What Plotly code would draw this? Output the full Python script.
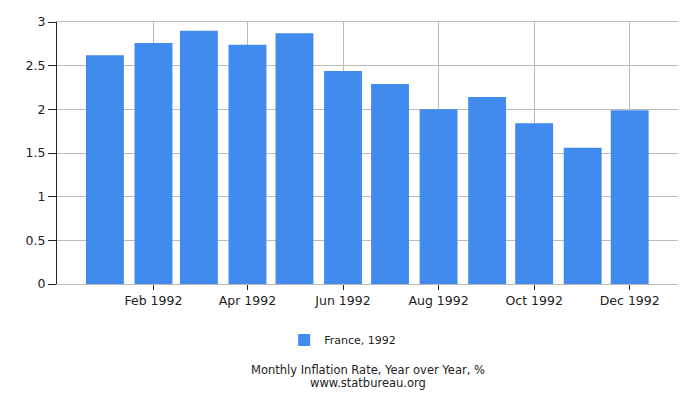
import plotly.graph_objects as go

months = ["1992-01-01", "1992-02-01", "1992-03-01", "1992-04-01", "1992-05-01", "1992-06-01",
          "1992-07-01", "1992-08-01", "1992-09-01", "1992-10-01", "1992-11-01", "1992-12-01"]
inflation = [2.62, 2.76, 2.90, 2.74, 2.87, 2.44, 2.29, 2.00, 2.14, 1.84, 1.56, 1.99]
series_name = "France, 1992"
tick_months = months[1::2]
tick_labels = ["Feb 1992", "Apr 1992", "Jun 1992", "Aug 1992", "Oct 1992", "Dec 1992"]

fig = go.Figure()
fig.add_trace(go.Bar(x=months, y=inflation, name=series_name,
                     marker=dict(color="#428bee", line=dict(width=0)),
                     width=24.2 * 86400000))

# page body has an 8px margin, so margins are shifted to land the plot area where the reference has it
fig.update_layout(
    width=700, height=400,
    margin=dict(l=49, r=30, t=14, b=124, autoexpand=False),
    plot_bgcolor="white", paper_bgcolor="white",
    font=dict(family="DejaVu Sans", size=11, color="#222"),
    showlegend=True,
    legend=dict(orientation="h", x=0.46, xanchor="center", y=-0.214, yanchor="middle",
                font=dict(size=11)),
    annotations=[
        dict(text="Monthly Inflation Rate, Year over Year, %", x=0.5, xref="paper",
             y=-0.330, yref="paper", yanchor="middle", showarrow=False,
             font=dict(size=11.5)),
        dict(text="www.statbureau.org", x=0.5, xref="paper",
             y=-0.376, yref="paper", yanchor="middle", showarrow=False,
             font=dict(size=11.5)),
    ],
)
fig.update_xaxes(type="date", range=["1991-12-01 10:00", "1992-12-31 20:00"],
                 tickvals=tick_months, ticktext=tick_labels, automargin=False,
                 showgrid=True, gridcolor="#bbbbbb", gridwidth=1,
                 showline=True, linecolor="#bbbbbb", mirror=True,
                 ticks="outside", ticklen=5, tickcolor="#222",
                 tickfont=dict(size=12.5))
fig.update_yaxes(range=[0, 3], dtick=0.5, showgrid=True, gridcolor="#bbbbbb",
                 showline=True, linecolor="#222", zeroline=False, automargin=False,
                 ticks="outside", ticklen=8, tickcolor="#222",
                 tickfont=dict(size=12.5))

fig.write_html("out.html")
